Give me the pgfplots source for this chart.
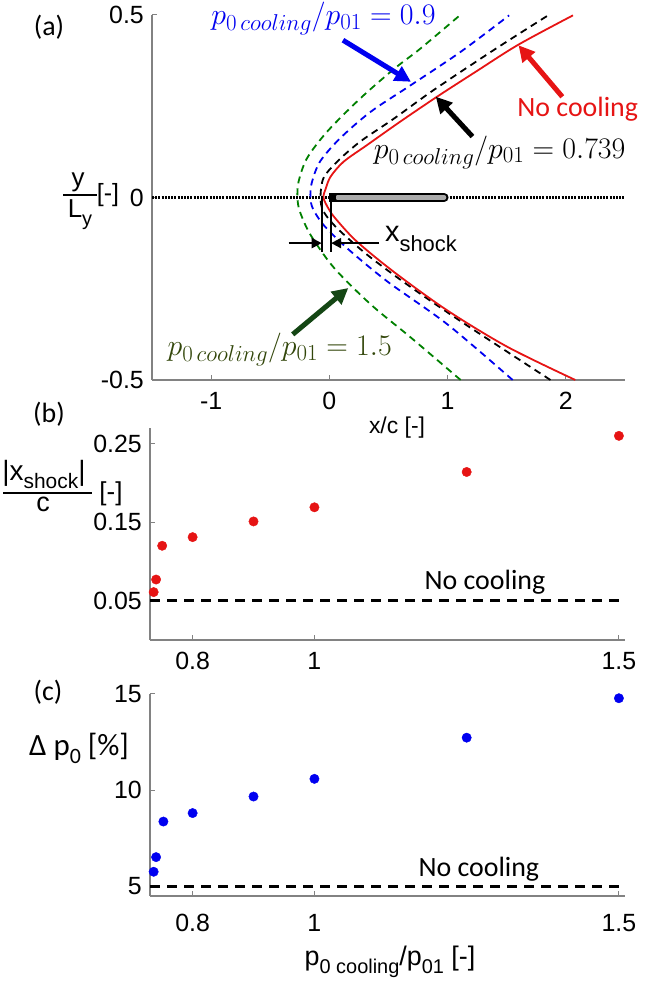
\RequirePackage{fix-cm}
\documentclass[border=0pt]{standalone}
\usepackage{fontspec}
\setmainfont{Carlito}
\newfontfamily\arial{Liberation Sans}
\usepackage{pgfplots}
\pgfplotsset{compat=1.18}
\usetikzlibrary{arrows.meta}
\DeclareMathSizes{30}{30}{23}{17}
\definecolor{myred}{RGB}{230,20,20}
\definecolor{myblue}{RGB}{0,0,240}
\definecolor{mygreen}{RGB}{0,128,0}
\definecolor{txtgreen}{RGB}{50,70,10}
\definecolor{arrgreen}{RGB}{20,70,20}
\definecolor{axgray}{RGB}{130,130,130}
\definecolor{bargray}{RGB}{170,170,170}

\pgfplotsset{
 myaxis/.style={
  scale only axis, anchor=south west,
  axis x line*=bottom, axis y line*=left,
  axis line style={axgray, line width=1.2bp},
  every tick/.style={axgray, line width=1bp},
  major tick length=5bp, tick align=inside,
  tick label style={font=\arial\fontsize{25}{25}\selectfont, inner sep=0pt},
  xticklabel style={anchor=north, yshift=-12bp},
  yticklabel style={anchor=east, xshift=-8bp},
  clip=false,
 },
 shockdash/.style={line width=1.8bp, dash pattern=on 7bp off 5bp},
}

\begin{document}
\begin{tikzpicture}
\useasboundingbox (0,0) rectangle (645bp,991bp);

% ---------------- (a)
\begin{axis}[myaxis, at={(152bp,611bp)}, width=473bp, height=365bp,
  xmin=-1.5, xmax=2.5, ymin=-0.5, ymax=0.5,
  xtick={-1,0,1,2}, xticklabels={-1,0,1,2},
  ytick={-0.5,0,0.5}, yticklabels={-0.5,0,0.5}]
 % symmetry line
 \addplot[black, line width=2.5bp, dash pattern=on 2bp off 1.2bp] coordinates {(-1.5,0) (2.5,0)};
 % body
 \addplot[black, line width=9bp, line cap=round] coordinates {(0.03,0) (0.97,0)};
 \addplot[bargray, line width=4.5bp, line cap=round] coordinates {(0.07,0) (0.97,0)};
 \addplot[black, line width=9bp] coordinates {(0.0,0) (0.06,0)};
 % shocks
 \addplot[mygreen, shockdash, smooth] coordinates {(1.11,-0.50) (0.69,-0.384) (0.35,-0.293) (0.04,-0.193) (-0.16,-0.102) (-0.25,-0.038) (-0.27,0) (-0.26,0.044) (-0.19,0.107) (-0.02,0.18) (0.26,0.271) (0.55,0.353) (0.77,0.408) (1.11,0.501)};
 \addplot[myblue, shockdash, smooth] coordinates {(1.55,-0.50) (1.00,-0.348) (0.49,-0.23) (0.15,-0.139) (-0.05,-0.075) (-0.14,-0.03) (-0.16,0) (-0.15,0.039) (-0.08,0.098) (0.09,0.162) (0.35,0.235) (0.69,0.308) (1.11,0.399) (1.52,0.499)};
 \addplot[black, shockdash, smooth] coordinates {(1.87,-0.50) (1.11,-0.339) (0.66,-0.239) (0.32,-0.157) (0.065,-0.084) (-0.05,-0.038) (-0.075,0) (-0.05,0.053) (0.065,0.098) (0.26,0.153) (0.55,0.217) (0.88,0.294) (1.39,0.404) (1.84,0.497)};
 \addplot[myred, line width=1.8bp, smooth] coordinates {(2.08,-0.50) (1.51,-0.41) (1.00,-0.31) (0.55,-0.205) (0.23,-0.12) (0.05,-0.057) (-0.01,-0.029) (-0.05,0) (-0.03,0.025) (0.01,0.057) (0.12,0.098) (0.32,0.144) (0.60,0.208) (0.91,0.276) (1.24,0.345) (1.60,0.419) (2.06,0.499)};
 % x_shock marker
 \draw[black, line width=2bp] (axis cs:-0.06,0.005) -- (axis cs:-0.06,-0.15);
 \draw[black, line width=2bp] (axis cs:0.01,0.005) -- (axis cs:0.01,-0.15);
 \draw[black, line width=2bp, -{Triangle[length=10bp,width=10bp]}] (axis cs:-0.345,-0.125) -- (axis cs:-0.065,-0.125);
 \draw[black, line width=2bp, -{Triangle[length=10bp,width=10bp]}] (axis cs:0.42,-0.125) -- (axis cs:0.015,-0.125);
 \node[anchor=base west, inner sep=0pt] at (axis cs:0.47,-0.12) {\arial\fontsize{29}{29}\selectfont x\raisebox{-10bp}{\fontsize{22}{22}\selectfont shock}};
 % annotations
 \draw[myblue, line width=5bp, -{Triangle[length=16bp,width=16bp]}] (axis cs:0.115,0.431) -- (axis cs:0.69,0.317);
 \draw[myred, line width=5bp, -{Triangle[length=16bp,width=16bp]}] (axis cs:1.97,0.276) -- (axis cs:1.60,0.417);
 \draw[black, line width=5bp, -{Triangle[length=16bp,width=16bp]}] (axis cs:1.21,0.167) -- (axis cs:0.90,0.276);
 \draw[arrgreen, line width=5bp, -{Triangle[length=16bp,width=16bp]}] (axis cs:-0.31,-0.375) -- (axis cs:0.16,-0.248);
 \node[myblue, anchor=base, inner sep=0pt, font=\fontsize{30}{30}\selectfont] at (axis cs:-0.05,0.473) {$p_{0\,cooling}/p_{01} = 0.9$};
 \node[black, anchor=base, inner sep=0pt, font=\fontsize{30}{30}\selectfont] at (axis cs:1.44,0.107) {$p_{0\,cooling}/p_{01} = 0.739$};
 \node[txtgreen, anchor=base, inner sep=0pt, font=\fontsize{30}{30}\selectfont] at (axis cs:-0.42,-0.434) {$p_{0\,cooling}/p_{01} = 1.5$};
 \node[myred, anchor=base, inner sep=0pt, font=\fontsize{28}{28}\selectfont] at (axis cs:2.10,0.221) {No cooling};
\end{axis}

% ---------------- (b)
\begin{axis}[myaxis, at={(150bp,351bp)}, width=475bp, height=212bp,
  xmin=0.73, xmax=1.51, ymin=0, ymax=0.27,
  xtick={0.8,1,1.5}, xticklabels={0.8,1,1.5},
  ytick={0.05,0.15,0.25}, yticklabels={0.05,0.15,0.25}]
 \addplot[black, line width=2.5bp, dash pattern=on 10bp off 7bp] coordinates {(0.73,0.05) (1.51,0.05)};
 \addplot[only marks, mark=*, mark size=4.7bp, myred, mark options={draw=myred, fill=myred}] coordinates {(0.736,0.061) (0.740,0.077) (0.750,0.120) (0.8,0.131) (0.9,0.151) (1.0,0.169) (1.25,0.214) (1.5,0.260)};
 \node[anchor=base, inner sep=0pt, font=\fontsize{28}{28}\selectfont] at (axis cs:1.28,0.064) {No cooling};
\end{axis}

% ---------------- (c)
\begin{axis}[myaxis, at={(150bp,95bp)}, width=475bp, height=202bp,
  xmin=0.73, xmax=1.51, ymin=4.5, ymax=15,
  xtick={0.8,1,1.5}, xticklabels={0.8,1,1.5},
  ytick={5,10,15}, yticklabels={5,10,15},
  xticklabel style={yshift=-6bp}]
 \addplot[black, line width=2.5bp, dash pattern=on 10bp off 7bp] coordinates {(0.73,5) (1.51,5)};
 \addplot[only marks, mark=*, mark size=4.7bp, myblue, mark options={draw=myblue, fill=myblue}] coordinates {(0.736,5.76) (0.740,6.52) (0.752,8.37) (0.8,8.81) (0.9,9.67) (1.0,10.59) (1.25,12.73) (1.5,14.78)};
 \node[anchor=base, inner sep=0pt, font=\fontsize{28}{28}\selectfont] at (axis cs:1.27,5.53) {No cooling};
\end{axis}

% ---------------- labels
\node[font=\fontsize{28}{28}\selectfont] at (49bp,964bp) {(a)};
\node[font=\fontsize{28}{28}\selectfont] at (49bp,577bp) {(b)};
\node[font=\fontsize{28}{28}\selectfont] at (48bp,299bp) {(c)};
\node[font=\arial\fontsize{23}{23}\selectfont] at (397bp,563bp) {x/c [-]};
% y/L_y [-]
\node[anchor=south, inner sep=0pt, font=\arial\fontsize{26}{26}\selectfont] at (78bp,799bp) {y};
\draw[black, line width=1.5bp] (63bp,796bp) -- (97bp,796bp);
\node[anchor=north, inner sep=0pt, font=\arial\fontsize{26}{26}\selectfont] at (80bp,792bp) {L\raisebox{-8bp}{\fontsize{20}{20}\selectfont y}};
\node[anchor=center, inner sep=0pt, font=\arial\fontsize{25}{25}\selectfont] at (108bp,796bp) {[-]};
% |x_shock|/c [-]
\node[anchor=south, inner sep=0pt, font=\arial\fontsize{28}{28}\selectfont] at (44bp,502bp) {|x\raisebox{-8bp}{\fontsize{21}{21}\selectfont shock}|};
\draw[black, line width=1.5bp] (3bp,498bp) -- (92bp,498bp);
\node[anchor=north, inner sep=0pt, font=\arial\fontsize{27}{27}\selectfont] at (43bp,494bp) {c};
\node[anchor=center, inner sep=0pt, font=\arial\fontsize{26}{26}\selectfont] at (111bp,497bp) {[-]};
% others
\node[font=\fontsize{31}{31}\selectfont] at (79bp,243bp) {Δ p\raisebox{-8bp}{\fontsize{22}{22}\selectfont 0} [\%]};
\node[font=\arial\fontsize{27}{27}\selectfont] at (390bp,29bp) {p\raisebox{-8bp}{\fontsize{20}{20}\selectfont 0 cooling}/p\raisebox{-8bp}{\fontsize{20}{20}\selectfont 01} [-]};
\end{tikzpicture}
\end{document}
